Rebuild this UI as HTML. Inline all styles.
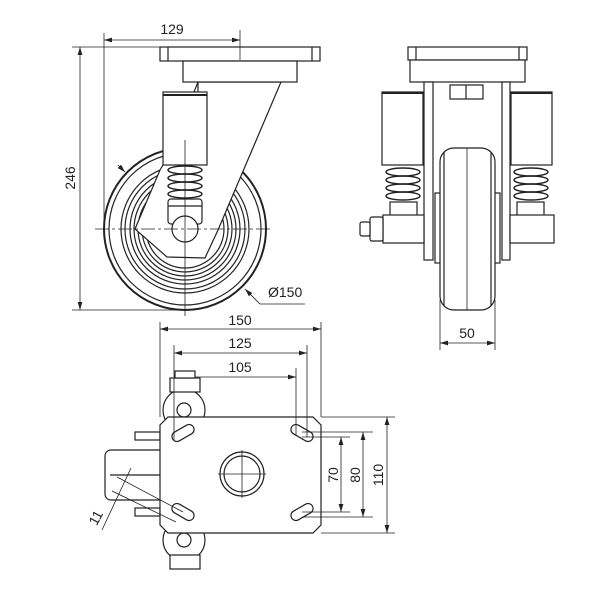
<!DOCTYPE html>
<html><head><style>html,body{margin:0;padding:0;background:#fff}svg{display:block}
text{font-family:"Liberation Sans",sans-serif;font-size:14px;fill:#222;stroke:none}</style></head>
<body>
<svg width="600" height="600" viewBox="0 0 600 600" xmlns="http://www.w3.org/2000/svg" stroke="#222" fill="none" stroke-width="1">
<defs><marker id="a" viewBox="0 0 10 6" refX="10" refY="3" markerWidth="10" markerHeight="6" orient="auto-start-reverse"><path d="M0,0L10,3L0,6z" fill="#222" stroke="none"/></marker></defs>
<!-- LEFT VIEW -->
<g stroke-width="1.2">
<circle cx="185" cy="229" r="81" stroke-width="2"/>
<circle cx="185" cy="229" r="76"/>
<circle cx="185" cy="229" r="64"/>
<circle cx="185" cy="229" r="60"/>
<circle cx="185" cy="229" r="55"/>
<circle cx="185" cy="229" r="51"/>
<circle cx="185" cy="229" r="47"/>
<circle cx="185" cy="229" r="43"/>
<circle cx="185" cy="229" r="39"/>
<polygon points="198,82 281,82 218,230 205,258 167,257 135,229 160,170 163,165 198,92" fill="#fff"/>
<rect x="160" y="47" width="160" height="14" fill="#fff"/>
<line x1="168" y1="47" x2="168" y2="61"/><line x1="312" y1="47" x2="312" y2="61"/>
<rect x="183" y="61" width="114" height="21" fill="#fff"/>
<line x1="198" y1="82" x2="194" y2="92"/>
<rect x="163" y="92" width="44" height="73" fill="#fff"/>
<line x1="163" y1="95" x2="207" y2="95" stroke-width="2"/>
<g stroke-width="1.5"><ellipse cx="185" cy="170" rx="17" ry="4"/><ellipse cx="185" cy="178" rx="17" ry="4"/><ellipse cx="185" cy="186" rx="17" ry="4"/><ellipse cx="185" cy="194" rx="17" ry="4"/></g>
<rect x="168" y="199" width="34" height="25" rx="3" fill="#fff"/>
<line x1="168" y1="206" x2="202" y2="206"/>
<circle cx="185" cy="229" r="13" fill="#fff"/>
</g>
<line x1="95" y1="229" x2="272" y2="229" stroke-dasharray="14,3,3,3" stroke-width=".8"/>
<line x1="185" y1="140" x2="185" y2="316" stroke-width=".8"/>
<line x1="240" y1="30" x2="240" y2="60" stroke-width=".8"/>
<line x1="104" y1="33" x2="104" y2="230" stroke-width=".8"/>
<line x1="104" y1="40" x2="240" y2="40" marker-start="url(#a)" marker-end="url(#a)" stroke-width=".8"/>
<text x="172" y="34" text-anchor="middle">129</text>
<line x1="72" y1="47" x2="160" y2="47" stroke-width=".8"/>
<line x1="72" y1="310" x2="185" y2="310" stroke-width=".8"/>
<line x1="80" y1="47" x2="80" y2="310" marker-start="url(#a)" marker-end="url(#a)" stroke-width=".8"/>
<text transform="translate(75,178) rotate(-90)" text-anchor="middle">246</text>
<line x1="118" y1="165" x2="125" y2="172" marker-end="url(#a)" stroke-width=".8"/>
<polyline points="245,289 260,304 305,304" marker-start="url(#a)" stroke-width=".8"/>
<text x="268" y="297">Ø150</text>
<!-- RIGHT VIEW -->
<g stroke-width="1.2" fill="#fff">
<rect x="408" y="47" width="119" height="13"/>
<line x1="416" y1="47" x2="416" y2="60"/><line x1="519" y1="47" x2="519" y2="60"/>
<rect x="410" y="60" width="115" height="22"/>
<rect x="424" y="82" width="9" height="178"/><rect x="502" y="82" width="8" height="178"/>
<rect x="450" y="85" width="33" height="14"/><line x1="466" y1="85" x2="466" y2="99"/>
<rect x="382" y="92" width="41" height="73"/><rect x="511" y="92" width="41" height="73"/>
<line x1="382" y1="93" x2="423" y2="93" stroke-width="2"/><line x1="511" y1="93" x2="552" y2="93" stroke-width="2"/>
<g fill="none" stroke-width="1.5"><ellipse cx="403" cy="172" rx="17" ry="4"/><ellipse cx="403" cy="180" rx="17" ry="4"/><ellipse cx="403" cy="188" rx="17" ry="4"/><ellipse cx="403" cy="196" rx="17" ry="4"/>
<ellipse cx="531" cy="172" rx="17" ry="4"/><ellipse cx="531" cy="180" rx="17" ry="4"/><ellipse cx="531" cy="188" rx="17" ry="4"/><ellipse cx="531" cy="196" rx="17" ry="4"/></g>
<rect x="390" y="202" width="27" height="14"/><rect x="517" y="202" width="27" height="14"/>
<rect x="383" y="215" width="41" height="28"/><rect x="510" y="215" width="44" height="28"/>
<rect x="370" y="217" width="13" height="24" rx="2"/><rect x="360" y="222" width="10" height="14" rx="2"/>
<rect x="435" y="193" width="6" height="70"/><rect x="494" y="193" width="6" height="70"/>
<rect x="440" y="148" width="55" height="162" rx="14"/>
<line x1="444" y1="152" x2="444" y2="306"/><line x1="491" y1="152" x2="491" y2="306"/>
</g>
<line x1="467" y1="148" x2="467" y2="310" stroke-width=".8"/>
<line x1="440" y1="300" x2="440" y2="350" stroke-width=".8"/><line x1="495" y1="300" x2="495" y2="350" stroke-width=".8"/>
<line x1="440" y1="343" x2="495" y2="343" marker-start="url(#a)" marker-end="url(#a)" stroke-width=".8"/>
<text x="467" y="338" text-anchor="middle">50</text>
<!-- BOTTOM VIEW -->
<g stroke-width="1.2" fill="#fff">
<rect x="105" y="450" width="60" height="50" rx="6"/>
<line x1="110" y1="475" x2="160" y2="475"/>
<rect x="135" y="432" width="25" height="8"/><rect x="135" y="508" width="25" height="8"/>
<circle cx="184" cy="410" r="21"/><circle cx="184" cy="540" r="21"/>
<circle cx="184" cy="410" r="7"/><circle cx="184" cy="540" r="7"/>
<rect x="170" y="378" width="30" height="14"/><rect x="175" y="371" width="20" height="7"/>
<rect x="170" y="555" width="30" height="14"/>
<path d="M168,417 H313 L321,425 V525 L313,533 H168 L160,525 V425 Z"/>
<circle cx="242" cy="474" r="22"/><circle cx="242" cy="474" r="18"/>
<g transform="translate(183,433) rotate(-30)"><rect x="-12" y="-5" width="24" height="10" rx="5"/></g>
<g transform="translate(302,433) rotate(30)"><rect x="-12" y="-5" width="24" height="10" rx="5"/></g>
<g transform="translate(183,512) rotate(30)"><rect x="-12" y="-5" width="24" height="10" rx="5"/></g>
<g transform="translate(302,512) rotate(-30)"><rect x="-12" y="-5" width="24" height="10" rx="5"/></g>
</g>
<g stroke-width=".8">
<line x1="242" y1="450" x2="242" y2="498"/><line x1="218" y1="474" x2="266" y2="474"/>
<line x1="160" y1="322" x2="160" y2="417"/><line x1="321" y1="322" x2="321" y2="417"/>
<line x1="160" y1="329" x2="321" y2="329" marker-start="url(#a)" marker-end="url(#a)"/>
<text x="240" y="325" text-anchor="middle">150</text>
<line x1="174" y1="345" x2="174" y2="440"/><line x1="307" y1="345" x2="307" y2="437"/>
<line x1="174" y1="353" x2="307" y2="353" marker-start="url(#a)" marker-end="url(#a)"/>
<text x="240" y="348" text-anchor="middle">125</text>
<line x1="296" y1="368" x2="296" y2="435"/>
<line x1="195" y1="377" x2="296" y2="377" marker-end="url(#a)"/>
<text x="240" y="372" text-anchor="middle">105</text>
<line x1="321" y1="417" x2="395" y2="417"/><line x1="321" y1="533" x2="395" y2="533"/>
<line x1="302" y1="432" x2="373" y2="432"/><line x1="302" y1="517" x2="373" y2="517"/>
<line x1="302" y1="437" x2="350" y2="437"/><line x1="302" y1="512" x2="350" y2="512"/>
<line x1="341" y1="437" x2="341" y2="512" marker-start="url(#a)" marker-end="url(#a)"/>
<line x1="363" y1="432" x2="363" y2="517" marker-start="url(#a)" marker-end="url(#a)"/>
<line x1="387" y1="417" x2="387" y2="533" marker-start="url(#a)" marker-end="url(#a)"/>
<line x1="117" y1="477" x2="183" y2="512"/><line x1="112" y1="491" x2="176" y2="522"/>
<line x1="131" y1="468" x2="102" y2="530" />
</g>
<text transform="translate(338,475) rotate(-90)" text-anchor="middle">70</text>
<text transform="translate(360,475) rotate(-90)" text-anchor="middle">80</text>
<text transform="translate(383,475) rotate(-90)" text-anchor="middle">110</text>
<text transform="translate(100,520) rotate(-62)" text-anchor="middle">11</text>
</svg>
</body></html>
